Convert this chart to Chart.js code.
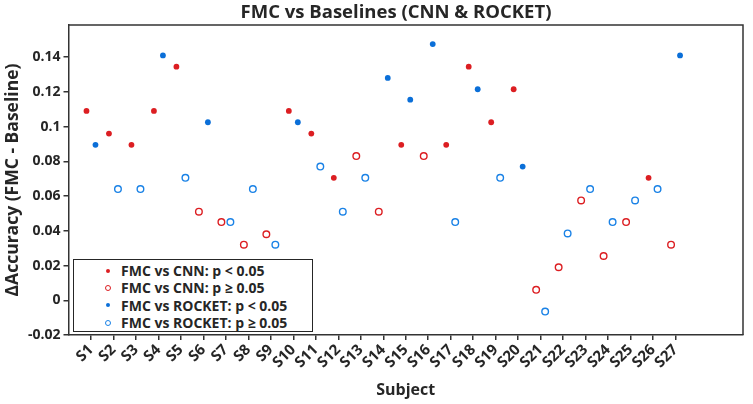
<!DOCTYPE html>
<html lang="en">
<head>
    <meta charset="UTF-8" />
    <title>FMC vs Baselines</title>
    <script src="https://cdn.jsdelivr.net/npm/chart.js"></script>
    <style>
        body { margin: 0; background: #fff; }
        .wrap { position: relative; width: 753px; height: 404px; }
        .legenda {
            position: absolute; left: 73px; top: 259px; width: 238px; height: 69px;
            border: 1.5px solid #262626; background: #fff;
            font: bold 14px "Open Sans", sans-serif; color: #262626;
            padding-top: 2px; box-sizing: content-box;
        }
        .legenda div { height: 17.3px; line-height: 17.3px; position: relative; padding-left: 47px; white-space: nowrap; }
        .legenda span { position: absolute; left: 34px; top: 50%; border-radius: 50%; transform: translate(-50%, -50%); }
        .cheio { width: 4px; height: 4px; }
        .vazio { width: 4px; height: 4px; border: 1.3px solid; background: #fff; }
    </style>
</head>
<body>
    <div class="wrap">
        <canvas id="grafico" width="753" height="404"></canvas>
        <div class="legenda">
            <div><span class="cheio" style="background:#dc1e22"></span>FMC vs CNN: p &lt; 0.05</div>
            <div><span class="vazio" style="border-color:#dc1e22"></span>FMC vs CNN: p ≥ 0.05</div>
            <div><span class="cheio" style="background:#0b6fd8"></span>FMC vs ROCKET: p &lt; 0.05</div>
            <div><span class="vazio" style="border-color:#1a82e6"></span>FMC vs ROCKET: p ≥ 0.05</div>
        </div>
    </div>
    <script>
        const subjects = ['S1', 'S2', 'S3', 'S4', 'S5', 'S6', 'S7', 'S8', 'S9', 'S10', 'S11', 'S12', 'S13', 'S14',
            'S15', 'S16', 'S17', 'S18', 'S19', 'S20', 'S21', 'S22', 'S23', 'S24', 'S25', 'S26', 'S27'];
        const cnnDiff = [0.109, 0.096, 0.0895, 0.109, 0.1345, 0.051, 0.045, 0.032, 0.038, 0.109, 0.096, 0.0705, 0.083, 0.051,
            0.0895, 0.083, 0.0895, 0.1345, 0.1025, 0.1215, 0.006, 0.019, 0.0575, 0.0255, 0.045, 0.0705, 0.032];
        const cnnSig = [1, 1, 1, 1, 1, 0, 0, 0, 0, 1, 1, 1, 0, 0, 1, 0, 1, 1, 1, 1, 0, 0, 0, 0, 0, 1, 0];
        const rocketDiff = [0.0895, 0.064, 0.064, 0.141, 0.0705, 0.1025, 0.045, 0.064, 0.032, 0.1025, 0.077, 0.051, 0.0705, 0.128,
            0.1155, 0.1475, 0.045, 0.1215, 0.0705, 0.077, -0.0065, 0.0385, 0.064, 0.045, 0.0575, 0.064, 0.141];
        const rocketSig = [1, 0, 0, 1, 0, 1, 0, 0, 0, 1, 0, 0, 0, 1, 1, 1, 0, 1, 0, 1, 0, 0, 0, 0, 0, 0, 1];
        const yTicks = [-0.02, 0, 0.02, 0.04, 0.06, 0.08, 0.1, 0.12, 0.14];

        const vermelho = '#dc1e22';
        const azul = '#0b6fd8';
        const azulClaro = '#1a82e6';
        const fonte = '"Open Sans", sans-serif';
        const texto = '#262626';

        // separa os pontos em significativos / nao significativos
        function pontos(valores, sig, flag, desloc) {
            const lista = [];
            for (let i = 0; i < valores.length; i++) {
                if (sig[i] === flag) lista.push({ x: i + 1 + desloc, y: valores[i] });
            }
            return lista;
        }

        function cheio(label, data, cor) {
            return { label: label, data: data, backgroundColor: cor, borderWidth: 0, pointRadius: 2.9, pointHoverRadius: 2.9 };
        }
        function vazio(label, data, cor) {
            return { label: label, data: data, backgroundColor: '#fff', borderColor: cor, borderWidth: 1.4, pointRadius: 3.3, pointHoverRadius: 3.3 };
        }

        const moldura = {
            id: 'moldura',
            afterDraw(chart) {
                const { ctx, chartArea: a } = chart;
                ctx.save();
                ctx.strokeStyle = '#333';
                ctx.lineWidth = 1.5;
                ctx.beginPath();
                ctx.moveTo(a.left, a.top);
                ctx.lineTo(a.right, a.top);
                ctx.lineTo(a.right, a.bottom);
                ctx.stroke();
                ctx.fillStyle = texto;
                ctx.font = 'bold 18.5px ' + fonte;
                ctx.textAlign = 'center';
                ctx.textBaseline = 'middle';
                ctx.fillText('FMC vs Baselines (CNN & ROCKET)', 396, 13);
                ctx.restore();
            }
        };

        const ctx = document.getElementById('grafico');
        new Chart(ctx, {
            type: 'scatter',
            data: {
                datasets: [
                    cheio('FMC vs CNN: p < 0.05', pontos(cnnDiff, cnnSig, 1, -0.2), vermelho),
                    vazio('FMC vs CNN: p ≥ 0.05', pontos(cnnDiff, cnnSig, 0, -0.2), vermelho),
                    cheio('FMC vs ROCKET: p < 0.05', pontos(rocketDiff, rocketSig, 1, 0.2), azul),
                    vazio('FMC vs ROCKET: p ≥ 0.05', pontos(rocketDiff, rocketSig, 0, 0.2), azulClaro)
                ]
            },
            options: {
                responsive: false,
                animation: false,
                layout: { padding: { top: 25, right: 10, left: 0, bottom: 0 } },
                plugins: { legend: { display: false }, title: { display: false }, tooltip: { enabled: false } },
                scales: {
                    x: {
                        type: 'linear', min: 0, max: 30,
                        afterBuildTicks: s => { s.ticks = subjects.map((_, i) => ({ value: i + 1 })); },
                        afterFit: s => { s.height = 69; },
                        ticks: {
                            autoSkip: false, maxRotation: 45, minRotation: 45, padding: 1, color: texto,
                            font: { family: fonte, size: 15, weight: 'bold' },
                            callback: (v, i) => subjects[i]
                        },
                        grid: { drawOnChartArea: false, tickLength: 5, color: '#333', lineWidth: 1.5 },
                        border: { color: '#333', width: 1.5 },
                        title: { display: true, text: 'Subject', color: texto, padding: { top: 0, bottom: 4 },
                            font: { family: fonte, size: 16, weight: 'bold' } }
                    },
                    y: {
                        min: -0.02, max: 0.1585,
                        afterBuildTicks: s => { s.ticks = yTicks.map(v => ({ value: v })); },
                        afterFit: s => { s.width = 68.5; },
                        ticks: {
                            padding: 3, color: texto, font: { family: fonte, size: 14, weight: 'bold' },
                            callback: v => String(parseFloat(v.toFixed(2)))
                        },
                        grid: { drawOnChartArea: false, tickLength: 5, color: '#333', lineWidth: 1.5 },
                        border: { color: '#333', width: 1.5 },
                        title: { display: true, text: 'ΔAccuracy (FMC - Baseline)', color: texto, padding: { top: 3, bottom: 0 },
                            font: { family: fonte, size: 17.5, weight: 'bold' } }
                    }
                }
            },
            plugins: [moldura]
        });
    </script>
</body>
</html>
